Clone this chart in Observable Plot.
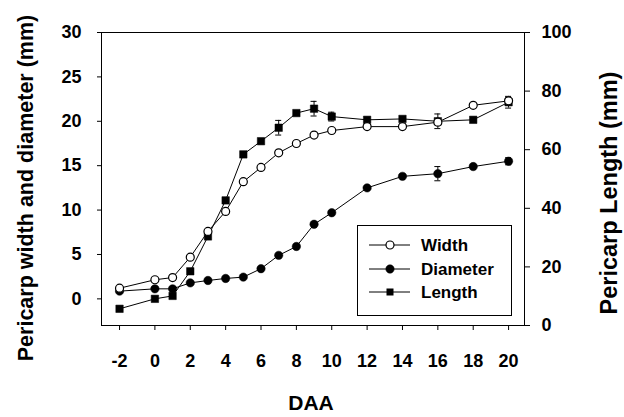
<!DOCTYPE html>
<html><head><meta charset="utf-8">
<script src="https://cdn.jsdelivr.net/npm/d3@7"></script>
<script src="https://cdn.jsdelivr.net/npm/@observablehq/plot@0.6"></script>
<style>
body{margin:0;background:#fff}
#chart{position:relative;width:624px;height:417px}
</style>
</head><body><div id="chart"></div>
<script>
// Data
const daa = [-2, 0, 1, 2, 3, 4, 5, 6, 7, 8, 9, 10, 12, 14, 16, 18, 20];
const widthMM = [1.2, 2.15, 2.4, 4.7, 7.6, 9.85, 13.2, 14.8, 16.45, 17.5, 18.45, 18.96, 19.4, 19.4, 19.9, 21.8, 22.3];
const widthErr = [0, 0, 0, 0, 0, 0, 0, 0, 0, 0, 0, 0, 0, 0, 0, 0.2, 0.4];
const diameterMM = [0.87, 1.13, 1.13, 1.8, 2.07, 2.3, 2.45, 3.4, 4.9, 5.9, 8.4, 9.7, 12.5, 13.8, 14.1, 14.9, 15.5];
const diameterErr = [0, 0, 0, 0, 0, 0, 0, 0, 0, 0, 0, 0, 0, 0, 0.8, 0, 0.4];
const lengthMM = [5.7, 9.1, 10.1, 18.5, 30.4, 42.7, 58.4, 62.9, 67.5, 72.5, 74.0, 71.3, 70.2, 70.5, 69.7, 70.2, 76.2];
const lengthErr = [0, 0, 0, 0, 0, 0, 0, 0, 2.5, 0, 2.5, 1.5, 0, 0, 2.5, 0, 2.0];

const xTicks = [-2, 0, 2, 4, 6, 8, 10, 12, 14, 16, 18, 20];
const leftTicks = [0, 5, 10, 15, 20, 25, 30];
const rightTicks = [0, 20, 40, 60, 80, 100];
const leftDomain = [-3, 30];
const rightDomain = [0, 100];
const legendLabels = ["Width", "Diameter", "Length"];

const xTitle = "DAA";
const leftTitle = "Pericarp width and diameter (mm)";
const rightTitle = "Pericarp Length (mm)";

// map right-axis (length) values onto the left y scale
const toLeft = d3.scaleLinear(rightDomain, leftDomain);

const rows = daa.map((x, i) => ({
  x,
  w: widthMM[i], we: widthErr[i],
  d: diameterMM[i], de: diameterErr[i],
  l: toLeft(lengthMM[i]), lLo: toLeft(lengthMM[i] - lengthErr[i]), lHi: toLeft(lengthMM[i] + lengthErr[i]), le: lengthErr[i]
}));

const capHalf = 0.17;
const wErr = rows.filter(r => r.we > 0);
const dErr = rows.filter(r => r.de > 0);
const lErr = rows.filter(r => r.le > 0);

function errMarks(data, lo, hi) {
  return [
    Plot.ruleX(data, {x: "x", y1: lo, y2: hi, stroke: "black", strokeWidth: 1}),
    Plot.ruleY(data, {y: lo, x1: r => r.x - capHalf, x2: r => r.x + capHalf, stroke: "black", strokeWidth: 1}),
    Plot.ruleY(data, {y: hi, x1: r => r.x - capHalf, x2: r => r.x + capHalf, stroke: "black", strokeWidth: 1})
  ];
}

const font = "'Liberation Sans', Arial, Helvetica, sans-serif";

const plot = Plot.plot({
  width: 624,
  height: 417,
  marginLeft: 101,
  marginRight: 100,
  marginTop: 32,
  marginBottom: 92,
  style: {fontFamily: font, fontWeight: "bold", fontSize: "18px", background: "white", color: "black"},
  x: {domain: [-3.02, 20.9]},
  y: {domain: leftDomain},
  marks: [
    Plot.frame({stroke: "black", strokeWidth: 1}),
    Plot.axisY(leftTicks, {anchor: "left", tickSize: 4, tickPadding: 16, label: null, fontSize: 18, tickFormat: d => String(d)}),
    Plot.axisY(rightTicks.map(v => toLeft(v)), {anchor: "right", tickSize: 5, tickPadding: 12, label: null, fontSize: 18,
      tickFormat: d => String(Math.round(toLeft.invert(d)))}),
    Plot.axisX(xTicks, {anchor: "bottom", tickSize: 5, tickPadding: 24, label: null, fontSize: 18, tickFormat: d => String(d)}),
    Plot.text([xTitle], {frameAnchor: "bottom", textAnchor: "middle", dx: -2, dy: 84, lineAnchor: "bottom", fontSize: 21, fontWeight: "bold"}),
    Plot.text([leftTitle], {frameAnchor: "left", textAnchor: "middle", rotate: -90, dx: -84, dy: 9, lineAnchor: "top", fontSize: 21.5, fontWeight: "bold"}),
    Plot.text([rightTitle], {frameAnchor: "right", textAnchor: "middle", rotate: -90, dx: 92, dy: 14, lineAnchor: "bottom", fontSize: 23.5, fontWeight: "bold"}),
    ...errMarks(wErr, r => r.w - r.we, r => r.w + r.we),
    ...errMarks(dErr, r => r.d - r.de, r => r.d + r.de),
    ...errMarks(lErr, "lLo", "lHi"),
    Plot.line(rows, {x: "x", y: "w", stroke: "black", strokeWidth: 1}),
    Plot.line(rows, {x: "x", y: "d", stroke: "black", strokeWidth: 1}),
    Plot.line(rows, {x: "x", y: "l", stroke: "black", strokeWidth: 1}),
    Plot.dot(rows, {x: "x", y: "l", symbol: "square", r: 4.2, fill: "black", stroke: "black", strokeWidth: 0.5}),
    Plot.dot(rows, {x: "x", y: "d", r: 4.2, fill: "black", stroke: "black", strokeWidth: 0.5}),
    Plot.dot(rows, {x: "x", y: "w", r: 4, fill: "white", stroke: "black", strokeWidth: 1.2})
  ]
});

document.getElementById("chart").appendChild(plot);

// Legend inside the plot area
const svg = d3.select(plot);
const lg = svg.append("g").attr("font-family", font).attr("font-weight", "bold").attr("font-size", 17).attr("text-anchor", "start");
lg.append("rect").attr("x", 357.5).attr("y", 225.5).attr("width", 154).attr("height", 90)
  .attr("fill", "white").attr("stroke", "black").attr("stroke-width", 1);
const rowY = [245, 269, 292];
legendLabels.forEach((lab, i) => {
  const y = rowY[i];
  lg.append("line").attr("x1", 369).attr("x2", 410).attr("y1", y).attr("y2", y).attr("stroke", "black").attr("stroke-width", 1);
  if (i === 2) {
    lg.append("rect").attr("x", 386.5).attr("y", y - 3.5).attr("width", 7).attr("height", 7).attr("fill", "black");
  } else {
    lg.append("circle").attr("cx", 390).attr("cy", y).attr("r", i === 0 ? 4 : 4.2)
      .attr("fill", i === 0 ? "white" : "black").attr("stroke", "black").attr("stroke-width", i === 0 ? 1.2 : 0.5);
  }
  lg.append("text").attr("x", 421).attr("y", y).attr("dy", "0.35em").attr("text-anchor", "start").text(lab);
});
</script>
</body></html>
